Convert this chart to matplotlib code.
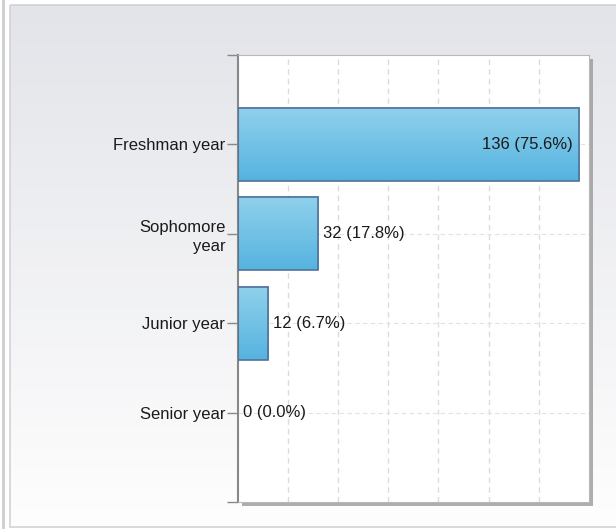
import numpy as np
import matplotlib.pyplot as plt
from matplotlib.patches import Rectangle

# data
categories = ['Freshman year', 'Sophomore\nyear', 'Junior year', 'Senior year']
counts = [136, 32, 12, 0]
percents = [75.6, 17.8, 6.7, 0.0]

plt.rcParams['font.family'] = ['Liberation Sans', 'DejaVu Sans']

fig = plt.figure(figsize=(6.16, 5.29), dpi=100)

# background gradient for the whole figure
bg = fig.add_axes([0, 0, 1, 1], zorder=-10)
grad = np.linspace(0, 1, 256).reshape(-1, 1)
bg.imshow(grad, aspect='auto', extent=[10, 616, 529, 5],
          cmap=plt.matplotlib.colors.LinearSegmentedColormap.from_list('bg', ['#e3e4e9', '#fefefe']))
bg.set_xlim(0, 616)
bg.set_ylim(529, 0)
bg.axis('off')
bg.add_patch(Rectangle((10, 5), 610, 522, fill=False, edgecolor='#d2d3d7', lw=1.2))
bg.add_patch(Rectangle((2, 0), 3, 529, facecolor='#d0d0d0', edgecolor='none'))

left, bottom, width, height = 0.386, 0.051, 0.570, 0.845
# shadow behind plot area
fig.patches.append(Rectangle((left + 0.007, bottom - 0.008), width, height,
                             transform=fig.transFigure, facecolor='#9a9a9a',
                             edgecolor='none', zorder=-5, alpha=0.8))

ax = fig.add_axes([left, bottom, width, height])
ax.set_facecolor('white')

y = np.arange(len(categories))
bars = ax.barh(y, counts, height=0.82, facecolor='none', edgecolor='#52719a', lw=1.2, zorder=3)

# gradient fill for the bars
bar_cmap = plt.matplotlib.colors.LinearSegmentedColormap.from_list('bar', ['#55b3df', '#90d1ec'])
for b in bars:
    w = b.get_width()
    if w <= 0:
        b.set_linewidth(0)
        continue
    y0 = b.get_y()
    h = b.get_height()
    ax.imshow(grad, aspect='auto', cmap=bar_cmap, origin='lower',
              extent=[0, w, y0 + h, y0], zorder=2)

ax.set_xlim(0, 140)
ax.set_ylim(4, -1)
ax.set_xticks(np.arange(20, 140, 20))
ax.tick_params(axis='x', length=0, labelbottom=False)
ax.grid(axis='x', color='#dcdcdc', linestyle=(0, (4, 3)), lw=1, zorder=0)
ax.grid(axis='y', color='#e2e2e2', linestyle=(0, (4, 3)), lw=0.8, zorder=0)

ax.set_yticks(y)
ax.set_yticklabels(categories, fontsize=12, color='#1a1a1a', ha='right', multialignment='right',
                   linespacing=1.3)
ax.set_yticks([-1, 4], minor=True)
ax.tick_params(axis='y', which='both', length=8, color='#888888', width=1, pad=1)

for spine in ['top', 'right', 'bottom']:
    ax.spines[spine].set_color('#b8b8b8')
ax.spines['left'].set_color('#888888')
ax.spines['left'].set_linewidth(1.5)

for i, (c, p) in enumerate(zip(counts, percents)):
    label = f'{c} ({p:.1f}%)'
    if c > 100:
        ax.text(c - 2.5, i, label, ha='right', va='center', fontsize=12, color='#1a1a1a', zorder=4)
    else:
        ax.text(c + 2, i, label, ha='left', va='center', fontsize=12, color='#1a1a1a', zorder=4)

fig.savefig('out.png', dpi=100)
